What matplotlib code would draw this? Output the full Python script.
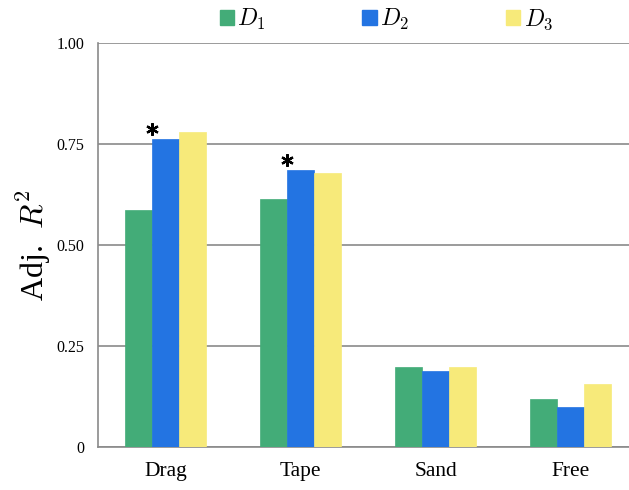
import matplotlib
matplotlib.use("Agg")
import matplotlib.pyplot as plt
import numpy as np
from matplotlib.patches import Patch

categories = ["Drag", "Tape", "Sand", "Free"]
series_names = ["$D_1$", "$D_2$", "$D_3$"]
d1 = [0.586, 0.613, 0.199, 0.118]
d2 = [0.762, 0.685, 0.187, 0.098]
d3 = [0.779, 0.678, 0.199, 0.156]
starred = ["Drag", "Tape"]  # D2 marked significant
yticks = [0, 0.25, 0.50, 0.75, 1.00]
ytick_labels = ["0", "0.25", "0.50", "0.75", "1.00"]

colors = ["#43ac78", "#2374e2", "#f7ea7a"]

plt.rcParams["font.family"] = ["Liberation Serif", "DejaVu Serif"]
plt.rcParams["mathtext.fontset"] = "cm"

fig = plt.figure(figsize=(6.29, 4.90), dpi=100)
ax = fig.add_axes([98 / 629, 43 / 490, 540 / 629, 404 / 490])

x = np.arange(len(categories))
w = 0.2
for i, (vals, c) in enumerate(zip([d1, d2, d3], colors)):
    ax.bar(x + (i - 1) * w, vals, w, color=c, edgecolor=c, linewidth=0.5,
           zorder=3)

# asterisks over the D2 bars
for cat in starred:
    k = categories.index(cat)
    ax.plot(k - 0.1, d2[k] + 0.025, marker=(6, 2, 0), markersize=9,
            color="black", mew=1.6, zorder=4, clip_on=False)

ax.set_xlim(-0.5, 3.5)
ax.set_ylim(0, 1.0)
ax.set_xticks(x)
ax.set_xticklabels(categories, fontsize=15.5)
ax.set_yticks(yticks)
ax.set_yticklabels(ytick_labels, fontsize=11.5)
ax.tick_params(length=0, pad=10)
ax.tick_params(axis="x", pad=11)
ax.yaxis.grid(True, color="#8a8a8a", linewidth=1.2, zorder=0)
for s in ["top", "right"]:
    ax.spines[s].set_visible(False)
for s in ["left", "bottom"]:
    ax.spines[s].set_color("#8a8a8a")
    ax.spines[s].set_linewidth(1.2)
ax.set_ylabel("Adj.  $R^2$", fontsize=23, labelpad=2)

handles = [Patch(facecolor=c, edgecolor=c) for c in colors]
fig.legend(handles, series_names, loc="upper center", ncol=3, frameon=False,
           bbox_to_anchor=(0.614, 1.03), fontsize=17, handlelength=0.6,
           handleheight=0.6, handletextpad=0.15, columnspacing=4.1)

fig.savefig("out.png", dpi=100)
